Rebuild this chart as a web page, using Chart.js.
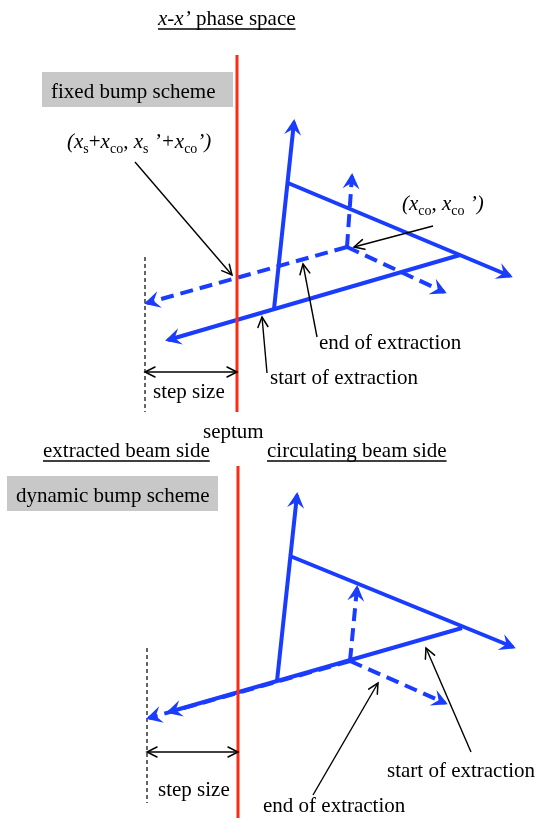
<!DOCTYPE html>
<html>
<head>
<meta charset="utf-8">
<script src="https://cdn.jsdelivr.net/npm/chart.js@4.4.0/dist/chart.umd.min.js"></script>
<style>
  html, body { margin: 0; padding: 0; background: #ffffff; }
  #wrap { width: 540px; height: 820px; position: relative; }
</style>
</head>
<body>
<div id="wrap"><canvas id="c"></canvas></div>
<script>
// Phase-space sketch drawn on a 540 x 820 plane (x to the right, y downward).

// Septum (red wall) in each panel
const septumUpper = [{x: 237, y: 55}, {x: 237, y: 412}];
const septumLower = [{x: 238, y: 466}, {x: 238, y: 818}];

// Fixed bump scheme: separatrix arms (solid) and closed-orbit frame (dashed)
const fixedArmVertical = [{x: 274, y: 309}, {x: 294, y: 122}];
const fixedArmUpper    = [{x: 288, y: 183}, {x: 510, y: 276}];
const fixedArmLower    = [{x: 460, y: 255}, {x: 168, y: 340}];
const fixedOrbitLeft   = [{x: 347, y: 247}, {x: 147, y: 303}];
const fixedOrbitUp     = [{x: 347, y: 247}, {x: 352, y: 176}];
const fixedOrbitRight  = [{x: 347, y: 247}, {x: 444, y: 292}];

// Dynamic bump scheme
const dynArmVertical = [{x: 277, y: 681}, {x: 297, y: 495}];
const dynArmUpper    = [{x: 290, y: 556}, {x: 513, y: 647}];
const dynArmLower    = [{x: 462, y: 628}, {x: 169, y: 712}];
const dynOrbitLeft   = [{x: 350, y: 661}, {x: 149, y: 718}];
const dynOrbitUp     = [{x: 350, y: 661}, {x: 357, y: 588}];
const dynOrbitRight  = [{x: 350, y: 661}, {x: 445, y: 703}];

// Pointers and step-size markers
const fixedPtrSeptum = [{x: 135, y: 162}, {x: 232, y: 275}];
const fixedPtrOrbit  = [{x: 433, y: 226}, {x: 354, y: 247}];
const fixedPtrEnd    = [{x: 317, y: 337}, {x: 303, y: 264}];
const fixedPtrStart  = [{x: 267, y: 373}, {x: 262, y: 317}];
const fixedStepGuide = [{x: 145, y: 257}, {x: 145, y: 412}];
const fixedStep      = [{x: 145, y: 372}, {x: 237, y: 372}];
const dynPtrStart    = [{x: 471, y: 752}, {x: 426, y: 648}];
const dynPtrEnd      = [{x: 313, y: 795}, {x: 378, y: 683}];
const dynStepGuide   = [{x: 147, y: 648}, {x: 147, y: 803}];
const dynStep        = [{x: 147, y: 752}, {x: 238, y: 752}];

// Text content
const titleParts = [{t: 'x-x\u2019', it: true}, {t: ' phase space'}];
const septumPointLabel = [
  {t: '(', it: true}, {t: 'x', it: true}, {t: 's', sub: true}, {t: '+'}, {t: 'x', it: true}, {t: 'co', sub: true},
  {t: ', '}, {t: 'x', it: true}, {t: 's', sub: true}, {t: ' \u2019+', it: true}, {t: 'x', it: true}, {t: 'co', sub: true},
  {t: '\u2019)', it: true}
];
const orbitPointLabel = [
  {t: '(', it: true}, {t: 'x', it: true}, {t: 'co', sub: true}, {t: ', '}, {t: 'x', it: true}, {t: 'co', sub: true},
  {t: ' \u2019)', it: true}
];
const schemeNames = ['fixed bump scheme', 'dynamic bump scheme'];
const sideNames = ['extracted beam side', 'circulating beam side'];

const BLUE = '#1a3cff';
const RED = '#ff2a12';
const FAMILY = "'Liberation Serif', 'Times New Roman', serif";
const SIZE = 21;
const SUB = 14;

function seg(data, o) {
  return {
    data: data,
    showLine: true,
    pointRadius: 0,
    pointHoverRadius: 0,
    fill: false,
    tension: 0,
    borderCapStyle: 'butt',
    borderColor: o.color,
    borderWidth: o.width,
    borderDash: o.dash || [],
    order: o.order,
    arrow: o.arrow || null,
    head: o.head || null
  };
}

const blueSolid = (d) => seg(d, {color: BLUE, width: 4, order: 3, arrow: 'end', head: 'stealth'});
const blueDash = (d) => seg(d, {color: BLUE, width: 4, dash: [13, 7], order: 3, arrow: 'end', head: 'stealth'});
const pointer = (d, both) => seg(d, {color: '#000', width: 1.4, order: 1, arrow: both ? 'both' : 'end', head: 'open'});
const guide = (d) => seg(d, {color: '#000', width: 1.2, dash: [4, 3], order: 1});

const datasets = [
  seg(septumUpper, {color: RED, width: 3, order: 0}),
  seg(septumLower, {color: RED, width: 3, order: 0}),
  blueSolid(fixedArmVertical), blueSolid(fixedArmUpper), blueSolid(fixedArmLower),
  blueDash(fixedOrbitLeft), blueDash(fixedOrbitUp), blueDash(fixedOrbitRight),
  blueSolid(dynArmVertical), blueSolid(dynArmUpper), blueSolid(dynArmLower),
  blueDash(dynOrbitLeft), blueDash(dynOrbitUp), blueDash(dynOrbitRight),
  pointer(fixedPtrSeptum), pointer(fixedPtrOrbit), pointer(fixedPtrEnd), pointer(fixedPtrStart),
  guide(fixedStepGuide), pointer(fixedStep, true),
  pointer(dynPtrStart), pointer(dynPtrEnd),
  guide(dynStepGuide), pointer(dynStep, true)
];

function drawHead(ctx, from, to, style, color) {
  const ang = Math.atan2(to.y - from.y, to.x - from.x);
  ctx.save();
  ctx.translate(to.x, to.y);
  ctx.rotate(ang);
  ctx.setLineDash([]);
  if (style === 'stealth') {
    ctx.fillStyle = color;
    ctx.beginPath();
    ctx.moveTo(3, 0);
    ctx.lineTo(-13, -8.5);
    ctx.lineTo(-7, 0);
    ctx.lineTo(-13, 8.5);
    ctx.closePath();
    ctx.fill();
  } else {
    ctx.strokeStyle = color;
    ctx.lineWidth = 1.5;
    ctx.lineCap = 'round';
    ctx.beginPath();
    ctx.moveTo(-10, -5);
    ctx.lineTo(0, 0);
    ctx.lineTo(-10, 5);
    ctx.stroke();
  }
  ctx.restore();
}

function richText(ctx, x0, y0, parts, underline) {
  let x = x0;
  ctx.textBaseline = 'alphabetic';
  ctx.textAlign = 'left';
  ctx.fillStyle = '#000';
  for (const p of parts) {
    ctx.font = (p.it ? 'italic ' : '') + (p.sub ? SUB : SIZE) + 'px ' + FAMILY;
    ctx.fillText(p.t, x, y0 + (p.sub ? 5 : 0));
    x += ctx.measureText(p.t).width;
  }
  if (underline) {
    ctx.strokeStyle = '#000';
    ctx.lineWidth = 1.3;
    ctx.setLineDash([]);
    ctx.beginPath();
    ctx.moveTo(x0, y0 + 4);
    ctx.lineTo(x, y0 + 4);
    ctx.stroke();
  }
}

const sketchPlugin = {
  id: 'sketch',
  beforeDatasetsDraw(chart) {
    const ctx = chart.ctx;
    const sx = chart.scales.x, sy = chart.scales.y;
    const boxes = [[42, 72, 233, 107], [7, 476, 218, 511]];
    ctx.save();
    ctx.fillStyle = '#c8c8c8';
    boxes.forEach(b => {
      const x1 = sx.getPixelForValue(b[0]), y1 = sy.getPixelForValue(b[1]);
      const x2 = sx.getPixelForValue(b[2]), y2 = sy.getPixelForValue(b[3]);
      ctx.fillRect(x1, y1, x2 - x1, y2 - y1);
    });
    ctx.restore();
  },
  afterDatasetsDraw(chart) {
    const ctx = chart.ctx;
    const sx = chart.scales.x, sy = chart.scales.y;
    const P = (x, y) => [sx.getPixelForValue(x), sy.getPixelForValue(y)];
    ctx.save();
    chart.data.datasets.forEach((ds, i) => {
      if (!ds.arrow) return;
      const pts = chart.getDatasetMeta(i).data;
      const a = pts[0], b = pts[pts.length - 1];
      drawHead(ctx, a, b, ds.head, ds.borderColor);
      if (ds.arrow === 'both') drawHead(ctx, b, a, ds.head, ds.borderColor);
    });
    const plain = (s) => [{t: s}];
    const labels = [
      [titleParts, 158, 25, true],
      [plain(schemeNames[0]), 51, 98, false],
      [septumPointLabel, 67, 148, false],
      [orbitPointLabel, 402, 210, false],
      [plain('end of extraction'), 319, 349, false],
      [plain('start of extraction'), 270, 384, false],
      [plain('step size'), 153, 398, false],
      [plain('septum'), 203, 438, false],
      [plain(sideNames[0]), 43, 457, true],
      [plain(sideNames[1]), 267, 457, true],
      [plain(schemeNames[1]), 16, 502, false],
      [plain('start of extraction'), 387, 777, false],
      [plain('step size'), 158, 796, false],
      [plain('end of extraction'), 263, 812, false]
    ];
    labels.forEach(l => {
      const p = P(l[1], l[2]);
      richText(ctx, p[0], p[1], l[0], l[3]);
    });
    ctx.restore();
  }
};

new Chart(document.getElementById('c'), {
  type: 'scatter',
  data: {datasets: datasets},
  options: {
    responsive: true,
    maintainAspectRatio: false,
    animation: false,
    events: [],
    layout: {padding: 0},
    plugins: {legend: {display: false}, tooltip: {enabled: false}},
    scales: {
      x: {type: 'linear', min: 0, max: 540, display: false},
      y: {type: 'linear', min: 0, max: 820, reverse: true, display: false}
    }
  },
  plugins: [sketchPlugin]
});
</script>
</body>
</html>
